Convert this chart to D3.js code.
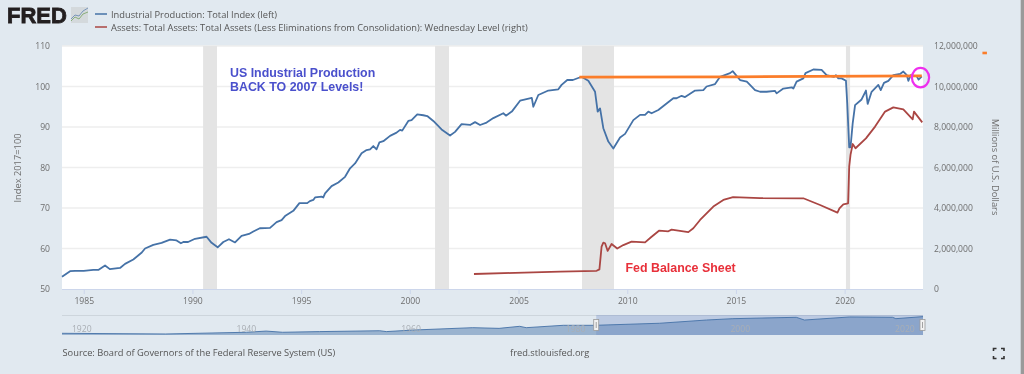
<!DOCTYPE html>
<html>
<head>
<meta charset="utf-8">
<script src="https://cdn.jsdelivr.net/npm/d3@7"></script>
<style>
  html, body { margin: 0; padding: 0; background: #e1e9f0; overflow: hidden; }
  svg { display: block; filter: blur(0.35px); }
  text { font-family: "Open Sans", sans-serif; }
</style>
</head>
<body>
<div id="chart"></div>
<script>
// values
var ipYears = [1984.0,1984.37,1984.6,1985.0,1985.44,1985.67,1985.98,1986.2,1986.67,1986.9,1987.28,1987.67,1987.82,1988.2,1988.58,1988.97,1989.27,1989.47,1989.58,1989.8,1990.12,1990.65,1990.88,1991.16,1991.42,1991.68,1991.96,1992.26,1992.6,1992.8,1993.1,1993.57,1993.87,1994.1,1994.26,1994.64,1994.92,1995.28,1995.4,1995.56,1995.64,1995.94,1996.02,1996.1,1996.4,1996.71,1997.02,
  1997.25,1997.48,1997.78,1998.01,1998.17,1998.32,1998.47,1998.6,1998.78,1999.09,1999.39,1999.55,1999.65,1999.93,2000.08,2000.34,2000.62,2000.8,2001.08,2001.46,2001.85,2002.08,2002.38,2002.77,2003.0,2003.23,2003.53,2003.84,2004.3,2004.42,2004.69,2005.07,2005.61,2005.68,2005.91,2006.37,2006.83,2006.98,2007.24,2007.5,2007.9,
  2008.21,2008.52,2008.64,2008.75,2008.9,2009.13,2009.36,2009.67,2009.9,2010.28,2010.59,2010.82,2010.97,2011.12,2011.43,2011.81,2012.12,2012.27,2012.5,2012.66,2013.12,2013.5,2013.65,2014.04,2014.27,2014.73,2014.85,2015.19,2015.5,2015.88,2016.11,
  2016.41,2016.8,2016.87,2017.18,2017.57,2017.64,2017.79,2018.1,2018.2,2018.56,2018.94,2019.17,2019.51,2019.6,2019.71,2019.86,2020.06,2020.12,2020.21,2020.27,2020.37,2020.48,2020.78,2020.98,2021.06,2021.24,2021.55,2021.66,2021.81,2022.01,2022.24,2022.55,2022.7,2022.86,2022.93,2023.04,2023.32,2023.4,2023.55];
var ipValues = [53.05,54.4,54.5,54.5,54.7,54.7,55.8,54.9,55.2,56.2,57.3,59.0,60.0,60.9,61.4,62.2,62.0,61.3,61.6,61.6,62.4,62.9,61.4,60.3,61.6,62.3,61.5,63.1,63.6,64.2,65.0,65.1,66.5,67.0,68.0,69.3,71.2,71.2,71.7,72.0,72.6,72.8,72.6,73.6,75.4,76.3,77.7,
  79.8,81.0,83.5,84.3,84.5,85.3,84.5,86.2,86.5,87.8,88.6,89.3,89.1,91.5,91.7,93.1,92.9,92.7,91.5,89.4,87.9,88.8,90.7,90.5,91.2,90.5,91.1,92.2,93.4,92.8,93.8,96.5,97.2,95.0,97.9,99.0,99.3,100.4,101.6,101.6,102.4,
  101.4,98.7,93.8,94.6,89.7,86.4,84.7,87.4,88.3,91.7,93.0,93.0,93.8,93.4,94.2,95.8,97.1,97.1,97.7,97.4,99.0,99.1,100.0,100.6,102.4,103.3,103.8,101.6,101.2,99.1,98.7,
  98.7,98.9,98.3,99.5,99.8,99.5,101.2,102.0,103.3,104.2,104.1,102.8,102.4,102.8,102.0,102.0,101.4,95.8,85.0,85.0,90.9,95.4,96.8,99.0,95.7,98.7,100.4,99.1,100.9,101.4,102.8,103.1,103.7,102.8,101.4,102.8,102.5,101.7,102.5];

var assetYears = [2002.95,2006.91,2008.59,2008.72,2008.82,2008.9,2008.98,2009.1,2009.28,2009.54,2009.82,2010.2,2010.82,2011.12,2011.46,2011.89,2012.04,2012.81,2013.04,2013.35,2013.96,2014.42,2014.87,2016.11,2018.1,2018.87,2019.67,2019.76,2019.94,2020.16,2020.21,2020.27,2020.37,2020.5,2020.98,2021.4,2021.86,2022.24,2022.7,2023.13,2023.19,2023.57];
var assetValues = [740000,860000,900000,970000,2090000,2290000,2260000,1880000,2220000,2000000,2170000,2340000,2300000,2580000,2880000,2850000,2930000,2810000,3000000,3410000,4070000,4400000,4540000,4490000,4480000,4150000,3770000,3980000,4180000,4230000,6040000,6620000,7160000,6950000,7440000,8020000,8760000,8970000,8870000,8380000,8760000,8230000];

var navYears = [1917.6,1930.2,1940,1942.4,1944.4,1948.9,1956.2,1957,1960.2,1967.5,1970.7,1973.2,1974,1978.5,1982.4,1990.2,1995.9,1999.1,2006.8,2007.8,2013.3,2018.5,2018.9,2022.2];
var navValues = [10,6,16,23,16,20,25,20,29,43,39,51,43,57,57,69,88,96,104,88,106,104,96,108];

var recessions = [[1990.49,1991.13],[2001.16,2001.8],[2007.92,2009.39],[2020.06,2020.25]];
var orangeYears = [2007.8,2015,2023.55];
var orangeValues = [102.3,102.4,102.6];

var yearTicks = [1985,1990,1995,2000,2005,2010,2015,2020];
var navTicks = [1920,1940,1960,1980,2000,2020];
var leftTicks = [50,60,70,80,90,100,110];
var rightTicks = [0,2000000,4000000,6000000,8000000,10000000,12000000];

var ipName = "Industrial Production: Total Index (left)";
var assetName = "Assets: Total Assets: Total Assets (Less Eliminations from Consolidation): Wednesday Level (right)";

// set the dimensions of the graph
var width = 1024, height = 374;
var plot = {left: 62, right: 923, top: 46, bottom: 289};
var nav = {top: 315, bottom: 335};

var grey = "#6e6e6e";
var tickSize = "8.6px";
var textSize = "9.3px";

var svg = d3.select("#chart")
  .append("svg")
    .attr("width", width)
    .attr("height", height);

// Scales
var x = d3.scaleLinear().domain([1984, 1984 + (plot.right - plot.left) / 21.74]).range([plot.left, plot.right]);
var yLeft = d3.scaleLinear().domain([50, 110]).range([plot.bottom, plot.top]);
var yRight = d3.scaleLinear().domain([0, 12000000]).range([plot.bottom, plot.top]);
var xNav = d3.scaleLinear().domain([1917.6, 2022.2]).range([plot.left, plot.right]);
var yNav = d3.scaleLinear().domain([0, 104]).range([nav.bottom, 317.3]);

// plot background
svg.append("rect")
    .attr("x", plot.left).attr("y", plot.top)
    .attr("width", plot.right - plot.left).attr("height", plot.bottom - plot.top)
    .attr("fill", "#ffffff");

// Grid lines
svg.append("g")
  .selectAll("line")
  .data(leftTicks.slice(1))
  .enter()
  .append("line")
    .attr("x1", plot.left).attr("x2", plot.right)
    .attr("y1", function(d) { return yLeft(d); })
    .attr("y2", function(d) { return yLeft(d); })
    .attr("stroke", "#eeeeee")
    .attr("stroke-width", 1.5);

// recession bars
svg.append("g")
  .selectAll("rect")
  .data(recessions)
  .enter()
  .append("rect")
    .attr("x", function(d) { return x(d[0]); })
    .attr("y", plot.top)
    .attr("width", function(d) { return x(d[1]) - x(d[0]); })
    .attr("height", plot.bottom - plot.top)
    .attr("fill", "#e4e4e4");

// Axes
var xAxis = d3.axisBottom(x).tickValues(yearTicks).tickFormat(d3.format("d")).tickSize(5).tickPadding(4);
var leftAxis = d3.axisLeft(yLeft).tickValues(leftTicks).tickSize(0).tickPadding(12);
var rightAxis = d3.axisRight(yRight).tickValues(rightTicks).tickFormat(d3.format(",")).tickSize(0).tickPadding(11);

var gx = svg.append("g").attr("transform", "translate(0," + plot.bottom + ")").call(xAxis);
gx.selectAll("line").attr("stroke", "#ccd6eb");
gx.select(".domain").attr("stroke", "#ccd6eb").attr("d", "M" + plot.left + ",0.5H" + plot.right);

var gl = svg.append("g").attr("transform", "translate(" + plot.left + ",0)").call(leftAxis);
var gr = svg.append("g").attr("transform", "translate(" + plot.right + ",0)").call(rightAxis);
gl.select(".domain").remove();
gr.select(".domain").remove();

[gx, gl, gr].forEach(function(g) {
  g.selectAll("text")
    .attr("fill", grey)
    .style("font-family", "'Open Sans', sans-serif")
    .style("font-size", tickSize);
});

// axis titles
svg.append("text")
    .attr("transform", "translate(21,168) rotate(-90)")
    .attr("text-anchor", "middle")
    .attr("fill", grey)
    .style("font-size", textSize)
    .text("Index 2017=100");

svg.append("text")
    .attr("transform", "translate(992,167) rotate(90)")
    .attr("text-anchor", "middle")
    .attr("fill", grey)
    .style("font-size", textSize)
    .text("Millions of U.S. Dollars");

// the two series
var ipLine = d3.line()
    .x(function(d, i) { return x(ipYears[i]); })
    .y(function(d) { return yLeft(d); });

var assetLine = d3.line()
    .x(function(d, i) { return x(assetYears[i]); })
    .y(function(d) { return yRight(d); });

svg.append("path")
    .attr("d", ipLine(ipValues))
    .attr("fill", "none")
    .attr("stroke", "#4572a7")
    .attr("stroke-width", 1.8)
    .attr("stroke-linejoin", "round");

svg.append("path")
    .attr("d", assetLine(assetValues))
    .attr("fill", "none")
    .attr("stroke", "#aa4643")
    .attr("stroke-width", 1.8)
    .attr("stroke-linejoin", "round");

// hand drawn annotations on the screenshot
var orangeLine = d3.line()
    .x(function(d, i) { return x(orangeYears[i]); })
    .y(function(d) { return yLeft(d); });

svg.append("path")
    .attr("d", orangeLine(orangeValues))
    .attr("fill", "none")
    .attr("stroke", "#fb7d2a")
    .attr("stroke-width", 2.8);

svg.append("rect")
    .attr("x", x(2026.43) - 2).attr("y", yLeft(108.3) - 1.2)
    .attr("width", 4.5).attr("height", 2.6)
    .attr("fill", "#fb7d2a");

svg.append("ellipse")
    .attr("cx", x(2023.49)).attr("cy", yLeft(102.2))
    .attr("rx", 8.6).attr("ry", 9.8)
    .attr("fill", "none")
    .attr("stroke", "#ee2fee")
    .attr("stroke-width", 2.2);

var notes = [
  {text: "US Industrial Production", x: 230, y: 77, color: "#4a50cc"},
  {text: "BACK TO 2007 Levels!", x: 230, y: 91, color: "#4a50cc"},
  {text: "Fed Balance Sheet", x: 625.5, y: 272, color: "#e8303a"}
];

svg.append("g")
  .selectAll("text")
  .data(notes)
  .enter()
  .append("text")
    .attr("x", function(d) { return d.x; })
    .attr("y", function(d) { return d.y; })
    .attr("fill", function(d) { return d.color; })
    .style("font-family", "'Liberation Sans', sans-serif")
    .style("font-weight", "bold")
    .style("font-size", "12.4px")
    .text(function(d) { return d.text; });

// Legend
var legend = [{name: ipName, color: "#4572a7", y: 14}, {name: assetName, color: "#aa4643", y: 27}];

svg.append("g")
  .selectAll("line")
  .data(legend)
  .enter()
  .append("line")
    .attr("x1", 95).attr("x2", 107)
    .attr("y1", function(d) { return d.y; })
    .attr("y2", function(d) { return d.y; })
    .attr("stroke", function(d) { return d.color; })
    .attr("stroke-width", 1.5);

svg.append("g")
  .selectAll("text")
  .data(legend)
  .enter()
  .append("text")
    .attr("x", 111)
    .attr("y", function(d) { return d.y + 4; })
    .attr("fill", "#555555")
    .style("font-size", textSize)
    .text(function(d) { return d.name; });

// FRED logo
svg.append("text")
    .attr("x", 7).attr("y", 23)
    .attr("fill", "#231f20")
    .style("font-family", "'Liberation Sans', sans-serif")
    .style("font-weight", "bold")
    .style("font-size", "22px")
    .style("stroke", "#231f20")
    .style("stroke-width", "0.8px")
    .text("FRED");

var logo = svg.append("g").attr("transform", "translate(71,7)");
logo.append("rect").attr("width", 17).attr("height", 16).attr("fill", "#d4d9dc");
logo.append("path").attr("d", "M0,14L4,10L8,12L12,7L17,5").attr("fill", "none").attr("stroke", "#7fa86f").attr("stroke-width", 0.9);
logo.append("path").attr("d", "M0,12L4,8L8,9L12,4L17,1").attr("fill", "none").attr("stroke", "#6d8db5").attr("stroke-width", 0.9);

// Navigator
var navArea = d3.area()
    .x(function(d, i) { return xNav(navYears[i]); })
    .y0(nav.bottom)
    .y1(function(d) { return yNav(d); });

var navLine = d3.line()
    .x(function(d, i) { return xNav(navYears[i]); })
    .y(function(d) { return yNav(d); });

svg.append("line")
    .attr("x1", plot.left).attr("x2", plot.right)
    .attr("y1", nav.top + 0.5).attr("y2", nav.top + 0.5)
    .attr("stroke", "#cdd5dc");

svg.append("path")
    .attr("d", navArea(navValues))
    .attr("fill", "#4572a7")
    .attr("fill-opacity", 0.45);

var handleLeft = xNav(1982.5);

svg.append("rect")
    .attr("x", handleLeft).attr("y", nav.top)
    .attr("width", plot.right - handleLeft).attr("height", nav.bottom - nav.top)
    .attr("fill", "#6685c2")
    .attr("fill-opacity", 0.3);

svg.append("path")
    .attr("d", navLine(navValues))
    .attr("fill", "none")
    .attr("stroke", "#4572a7")
    .attr("stroke-width", 0.9);

svg.append("g")
  .selectAll("text")
  .data(navTicks)
  .enter()
  .append("text")
    .attr("x", function(d) { return xNav(d); })
    .attr("y", 332)
    .attr("text-anchor", "middle")
    .attr("fill", "#a9aeb4")
    .style("font-size", tickSize)
    .text(function(d) { return d; });

// navigator handles
[handleLeft, plot.right - 0.5].forEach(function(hx) {
  svg.append("rect")
      .attr("x", hx - 2.5).attr("y", 319.5)
      .attr("width", 5).attr("height", 11)
      .attr("fill", "#f2f2f2")
      .attr("stroke", "#999999")
      .attr("stroke-width", 0.8);
  svg.append("line")
      .attr("x1", hx).attr("x2", hx)
      .attr("y1", 322).attr("y2", 328)
      .attr("stroke", "#999999")
      .attr("stroke-width", 0.9);
});

// footer
svg.append("text")
    .attr("x", 62.5).attr("y", 356)
    .attr("fill", "#555555")
    .style("font-size", textSize)
    .text("Source: Board of Governors of the Federal Reserve System (US)");

svg.append("text")
    .attr("x", 510).attr("y", 356)
    .attr("fill", "#555555")
    .style("font-size", textSize)
    .text("fred.stlouisfed.org");

// full screen icon
svg.append("path")
    .attr("d", "M993.5,351V348.5H996.5M1001,348.5H1004V351M1004,356V358.5H1001M996.5,358.5H993.5V356")
    .attr("fill", "none")
    .attr("stroke", "#333333")
    .attr("stroke-width", 1.6);

// edge of the screenshot
svg.append("rect")
    .attr("x", 1020.7).attr("y", 0)
    .attr("width", 3.3).attr("height", height)
    .attr("fill", "#9a9a9a");
</script>
</body>
</html>
